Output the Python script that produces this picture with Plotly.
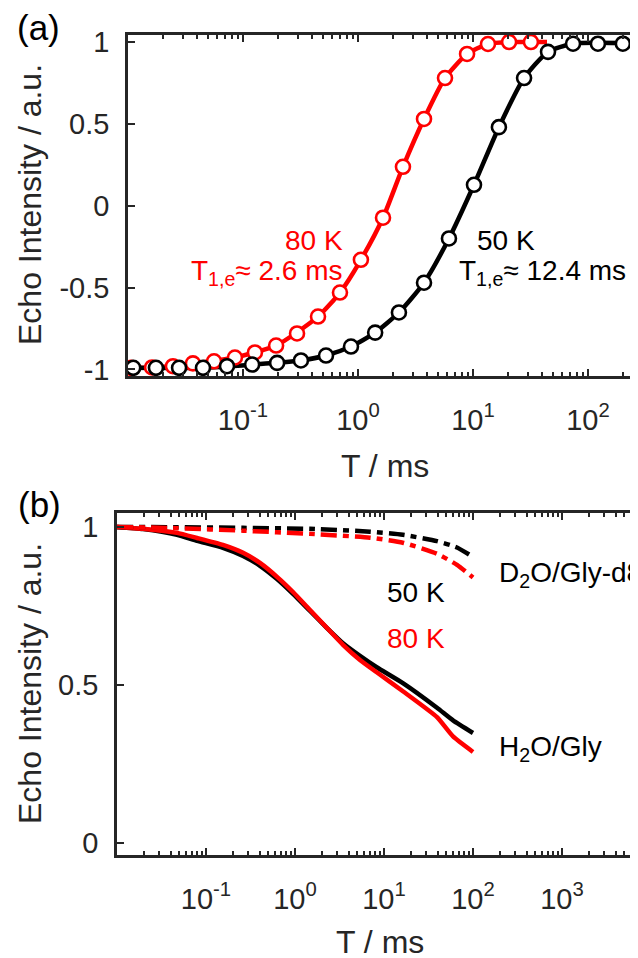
import plotly.graph_objects as go

# ---------------- Panel (a): inversion recovery ----------------
t_80K = [0.0106, 0.0162, 0.0246, 0.0367, 0.056, 0.0851, 0.127, 0.194, 0.295, 0.449,
         0.697, 1.06, 1.65, 2.46, 3.75, 5.71, 8.88, 13.5, 20.6, 31.9]
echo_80K = [-0.99, -0.988, -0.98, -0.963, -0.95, -0.927, -0.896, -0.854, -0.78, -0.677,
            -0.53, -0.33, -0.073, 0.238, 0.53, 0.78, 0.927, 0.988, 1.0, 1.0]

t_50K = [0.0111, 0.0175, 0.0278, 0.0449, 0.0726, 0.120, 0.198, 0.319, 0.527, 0.869,
         1.41, 2.27, 3.75, 6.18, 10.2, 16.8, 27.8, 44.9, 74.1, 122, 201]
echo_50K = [-0.99, -0.99, -0.99, -0.99, -0.98, -0.97, -0.96, -0.945, -0.915, -0.86,
            -0.775, -0.652, -0.47, -0.20, 0.128, 0.48, 0.78, 0.94, 0.99, 0.99, 0.99]

# fit curves
fit_t_80K = [0.01, 0.0162, 0.0367, 0.0851, 0.194, 0.449, 0.697, 1.06, 1.65, 2.46, 3.75,
             5.71, 8.88, 13.5, 20.6, 44.0]
fit_80K = [-0.99, -0.988, -0.963, -0.927, -0.854, -0.677, -0.53, -0.33, -0.073, 0.238, 0.53,
           0.78, 0.927, 0.988, 1.0, 1.0]
fit_t_50K = [0.01, 0.0449, 0.120, 0.319, 0.527, 0.869, 1.41, 2.27, 3.75, 6.18, 10.2, 16.8,
             27.8, 44.9, 74.1, 300]
fit_50K = [-0.99, -0.99, -0.97, -0.945, -0.915, -0.86, -0.775, -0.652, -0.47, -0.20, 0.128,
           0.48, 0.78, 0.94, 0.99, 0.99]

# ---------------- Panel (b): echo decays ----------------
t_h2o = [0.01, 0.0196, 0.0472, 0.0793, 0.155, 0.261, 0.404, 0.628, 0.95, 1.476, 2.29,
         3.46, 5.37, 8.28, 16.3, 39.4, 59.6, 100]
H2O_50K = [1.0, 0.993, 0.975, 0.956, 0.934, 0.908, 0.877, 0.835, 0.788, 0.734, 0.68,
           0.632, 0.592, 0.556, 0.506, 0.428, 0.388, 0.348]
H2O_80K = [1.0, 0.994, 0.981, 0.965, 0.943, 0.918, 0.886, 0.842, 0.794, 0.737, 0.68,
           0.627, 0.579, 0.540, 0.480, 0.398, 0.337, 0.288]

t_d2o = [0.01, 0.0472, 0.261, 1.476, 6.96, 16.3, 39.4, 66.1, 100]
D2O_50K = [1.0, 0.999, 0.997, 0.994, 0.985, 0.975, 0.955, 0.935, 0.905]
D2O_80K = [1.0, 0.996, 0.988, 0.978, 0.966, 0.95, 0.915, 0.88, 0.84]

# ---------------- ticks ----------------
xtick_vals_a = [0.1, 1, 10, 100]
xtick_text_a = ["10<sup>-1</sup>", "10<sup>0</sup>", "10<sup>1</sup>", "10<sup>2</sup>"]
xtick_vals_b = [0.1, 1, 10, 100, 1000]
xtick_text_b = ["10<sup>-1</sup>", "10<sup>0</sup>", "10<sup>1</sup>", "10<sup>2</sup>", "10<sup>3</sup>"]
ytick_vals_a = [-1, -0.5, 0, 0.5, 1]
ytick_text_a = ["-1", "-0.5", "0", "0.5", "1"]
ytick_vals_b = [0, 0.5, 1]
ytick_text_b = ["0", "0.5", "1"]
minor_vals = [m * 10.0 ** e for e in range(-2, 4) for m in range(2, 10)]

RED = "#FF0000"
BLK = "#000000"
AX = "#262626"
FONT = "Liberation Sans, Arial, sans-serif"
OFF = 8            # page body margin
W, H = 638 - OFF, 958 - OFF

fig = go.Figure()

# panel (a)
fig.add_trace(go.Scatter(x=fit_t_80K, y=fit_80K, mode="lines", line=dict(color=RED, width=4.5, shape="spline", smoothing=0.6),
                         xaxis="x", yaxis="y", showlegend=False))
fig.add_trace(go.Scatter(x=fit_t_50K, y=fit_50K, mode="lines", line=dict(color=BLK, width=4.5, shape="spline", smoothing=0.6),
                         xaxis="x", yaxis="y", showlegend=False))
fig.add_trace(go.Scatter(x=t_80K, y=echo_80K, mode="markers",
                         marker=dict(symbol="circle", size=14, color="white", line=dict(color=RED, width=2.6)),
                         xaxis="x", yaxis="y", showlegend=False))
fig.add_trace(go.Scatter(x=t_50K, y=echo_50K, mode="markers",
                         marker=dict(symbol="circle", size=14, color="white", line=dict(color=BLK, width=2.6)),
                         xaxis="x", yaxis="y", showlegend=False))

# panel (b)
dash_pat = "16px,6px,6px,6px"
fig.add_trace(go.Scatter(x=t_h2o, y=H2O_50K, mode="lines", line=dict(color=BLK, width=4.5, shape="spline", smoothing=0.5),
                         xaxis="x2", yaxis="y2", showlegend=False))
fig.add_trace(go.Scatter(x=t_h2o, y=H2O_80K, mode="lines", line=dict(color=RED, width=4.5, shape="spline", smoothing=0.5),
                         xaxis="x2", yaxis="y2", showlegend=False))
fig.add_trace(go.Scatter(x=t_d2o, y=D2O_50K, mode="lines", line=dict(color=BLK, width=4.5, dash=dash_pat, shape="spline", smoothing=0.5),
                         xaxis="x2", yaxis="y2", showlegend=False))
fig.add_trace(go.Scatter(x=t_d2o, y=D2O_80K, mode="lines", line=dict(color=RED, width=4.5, dash=dash_pat, shape="spline", smoothing=0.5),
                         xaxis="x2", yaxis="y2", showlegend=False))


def px_x(p):
    return (p - OFF) / W


def px_y(p):
    return 1 - (p - OFF) / H


tickfont = dict(family=FONT, size=29, color=AX)


def xaxis(domain, rng, vals, text, anchor):
    return dict(type="log", domain=domain, range=rng, anchor=anchor, automargin=False,
                tickmode="array", tickvals=vals, ticktext=text,
                ticks="inside", ticklen=7, tickwidth=2, tickcolor=AX,
                showline=True, linecolor=AX, linewidth=2.5, mirror="ticks",
                showgrid=False, zeroline=False, tickfont=tickfont,
                ticklabelstandoff=16,
                minor=dict(tickmode="array", tickvals=minor_vals, ticks="inside",
                           ticklen=4, tickwidth=1.5, tickcolor=AX, showgrid=False))


def yaxis(domain, rng, vals, text, anchor):
    return dict(domain=domain, range=rng, anchor=anchor, automargin=False,
                tickmode="array", tickvals=vals, ticktext=text,
                ticks="inside", ticklen=7, tickwidth=2, tickcolor=AX,
                showline=True, linecolor=AX, linewidth=2.5, mirror=False,
                showgrid=False, zeroline=False, tickfont=tickfont,
                ticklabelstandoff=10)


ann = []


def add_text(text, x, y, xref, yref, color=BLK, size=28, xanchor="center", yanchor="middle", angle=0):
    ann.append(dict(text=text, x=x, y=y, xref=xref, yref=yref, showarrow=False,
                    xanchor=xanchor, yanchor=yanchor, textangle=angle,
                    font=dict(family=FONT, size=size, color=color)))


# panel labels and axis titles (paper coords)
add_text("(a)", px_x(38), px_y(27), "paper", "paper", size=35)
add_text("(b)", px_x(39), px_y(504), "paper", "paper", size=35)
add_text("Echo Intensity / a.u.", px_x(30), px_y(205), "paper", "paper", color=AX, size=32, angle=-90)
add_text("Echo Intensity / a.u.", px_x(30), px_y(684), "paper", "paper", color=AX, size=32, angle=-90)
add_text("T / ms", px_x(385), px_y(466), "paper", "paper", color=AX, size=32)
add_text("T / ms", px_x(380), px_y(942), "paper", "paper", color=AX, size=32)

# panel (a) annotations (x in log10 units)
add_text("80 K", -0.113, -0.213, "x", "y", color=RED, xanchor="right")
add_text("T<sub>1,e</sub>\u2248 2.6 ms", -0.113, -0.41, "x", "y", color=RED, xanchor="right")
add_text("50 K", 1.017, -0.213, "x", "y", xanchor="left")
add_text("T<sub>1,e</sub>\u2248 12.4 ms", 0.861, -0.41, "x", "y", xanchor="left")

# panel (b) annotations
add_text("D<sub>2</sub>O/Gly-d8", 2.27, 0.848, "x2", "y2", xanchor="left")
add_text("50 K", 1.011, 0.794, "x2", "y2", xanchor="left")
add_text("80 K", 1.011, 0.646, "x2", "y2", color=RED, xanchor="left")
add_text("H<sub>2</sub>O/Gly", 2.27, 0.30, "x2", "y2", xanchor="left")

fig.update_layout(
    width=W, height=H,
    margin=dict(l=0, r=0, t=0, b=0, autoexpand=False),
    paper_bgcolor="white", plot_bgcolor="white",
    showlegend=False,
    xaxis=xaxis([px_x(128), 1.0], [-2, (638 - 128) / 115 - 2], xtick_vals_a, xtick_text_a, "y"),
    yaxis=yaxis([px_y(376), px_y(35)], [-1.04, 1.043], ytick_vals_a, ytick_text_a, "x"),
    xaxis2=xaxis([px_x(117), 1.0], [-2, (638 - 117) / 89 - 2], xtick_vals_b, xtick_text_b, "y2"),
    yaxis2=yaxis([px_y(855), px_y(513)], [-0.038, 1.044], ytick_vals_b, ytick_text_b, "x2"),
    annotations=ann,
)

fig.write_html("out.html")
